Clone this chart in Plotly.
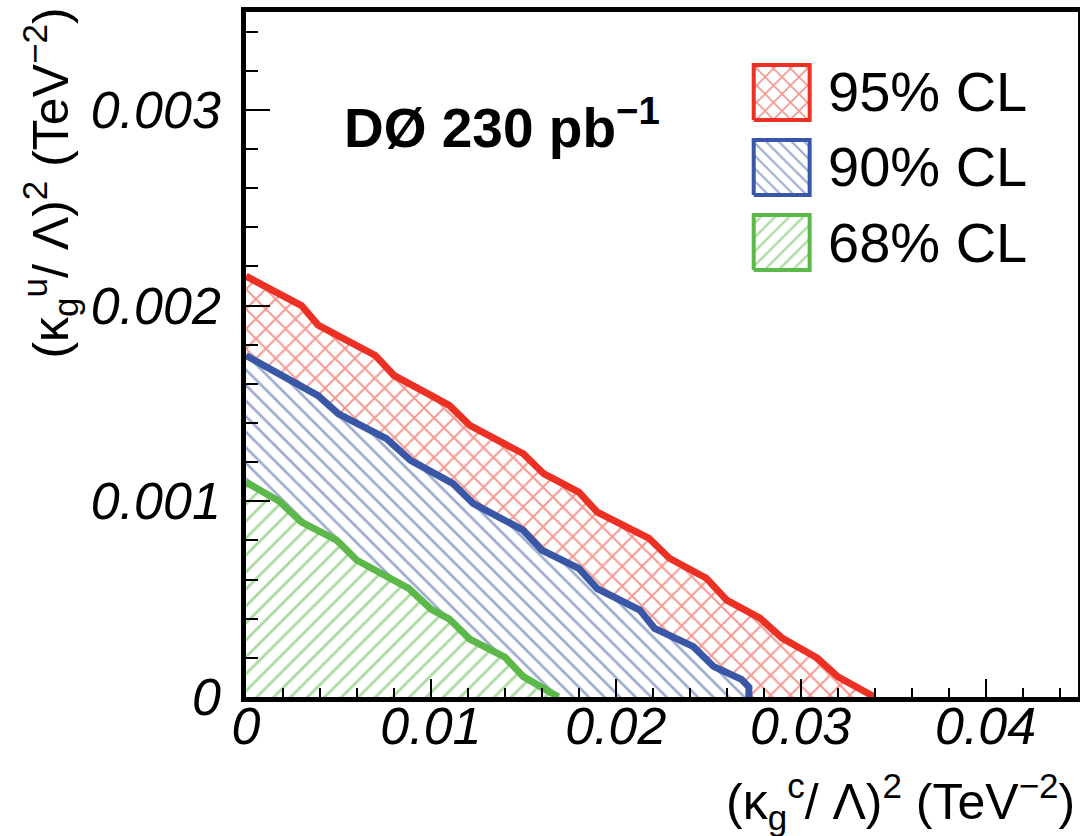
import plotly.graph_objects as go

# ---- data ----
cl_labels = ["95% CL", "90% CL", "68% CL"]

red_x = [0.0, 0.0030, 0.0039, 0.0070, 0.0080, 0.0110, 0.0121, 0.0150, 0.0161, 0.0180,
         0.0190, 0.0218, 0.0229, 0.0249, 0.0260, 0.0278, 0.0290, 0.0309, 0.0320, 0.0340]
red_y = [0.00215, 0.00200, 0.00190, 0.001745, 0.001643, 0.00149, 0.001388, 0.001243, 0.001141, 0.001047,
         0.000945, 0.000811, 0.000709, 0.000607, 0.000495, 0.000403, 0.000301, 0.000199, 0.000104, 0.0]

blue_x = [0.0, 0.0039, 0.0050, 0.0076, 0.0089, 0.0112, 0.0123, 0.0150, 0.0160, 0.0180,
          0.0190, 0.0213, 0.0221, 0.0242, 0.0253, 0.0268, 0.0272, 0.0272]
blue_y = [0.001745, 0.00154, 0.001447, 0.00132, 0.001209, 0.00109, 0.000988, 0.000852, 0.00075, 0.000657,
          0.000554, 0.000444, 0.00035, 0.000257, 0.000155, 0.00009, 0.00005, 0.0]

green_x = [0.0, 0.0018, 0.0030, 0.0049, 0.0060, 0.0088, 0.0100, 0.0110, 0.0121, 0.0140, 0.0150, 0.0169]
green_y = [0.001098, 0.001, 0.000894, 0.000801, 0.000699, 0.000555, 0.000449, 0.000398, 0.000296,
           0.000204, 0.000104, 0.0]

x_tickvals = [0, 0.01, 0.02, 0.03, 0.04]
x_ticktext = ["0", "0.01", "0.02", "0.03", "0.04"]
y_tickvals = [0, 0.001, 0.002, 0.003]
y_ticktext = ["0", "0.001", "0.002", "0.003"]

# ---- styles ----
RED = "rgb(236,49,36)"
BLUE = "rgb(57,87,166)"
GREEN = "rgb(92,184,72)"
FONT = "Liberation Sans, Arial, Helvetica, sans-serif"

series = [
    (cl_labels[0], red_x, red_y, RED, "x", 14, 0.26),
    (cl_labels[1], blue_x, blue_y, BLUE, "\\", 11, 0.24),
    (cl_labels[2], green_x, green_y, GREEN, "/", 12, 0.24),
]

fig = go.Figure()

for name, xs, ys, col, shape, size, sol in series:
    fig.add_trace(go.Scatter(
        x=xs, y=ys, mode="lines", name=name, fill="tozeroy",
        line=dict(color=col, width=7),
        fillpattern=dict(shape=shape, fgcolor=col, bgcolor="white", size=size, solidity=sol),
        showlegend=False, hoverinfo="skip",
    ))

# ---- custom legend (hatched boxes in a small inset axis) ----
for i, (name, xs, ys, col, shape, size, sol) in enumerate(series):
    top = 205 - 75 * i
    bot = top - 55
    fig.add_trace(go.Scatter(
        x=[0, 1, 1, 0, 0], y=[bot, bot, top, top, bot], mode="lines", fill="toself",
        line=dict(color=col, width=4),
        fillpattern=dict(shape=shape, fgcolor=col, bgcolor="white", size=size - 2, solidity=sol),
        xaxis="x2", yaxis="y2", showlegend=False, hoverinfo="skip",
    ))
    fig.add_annotation(
        xref="paper", yref="paper",
        x=(826 - 246) / 832.5, y=(697 - (92 + 75 * i)) / 685,
        xanchor="left", yanchor="middle", showarrow=False,
        text=name, font=dict(family=FONT, size=56, color="black"),
    )

fig.add_annotation(
    xref="paper", yref="paper", x=(342 - 246) / 832.5, y=(697 - 124) / 685,
    xanchor="left", yanchor="middle", showarrow=False,
    text="<b>DØ 230 pb<sup>−1</sup></b>",
    font=dict(family=FONT, size=55, color="black"),
)

# axis titles
fig.add_annotation(
    xref="paper", yref="paper", x=(1077 - 246) / 832.5, y=(697 - 801) / 685,
    xanchor="right", yanchor="middle", showarrow=False,
    text="(κ<sub>g</sub><sup>c</sup>/ Λ)<sup>2</sup> (TeV<sup>−2</sup>)",
    font=dict(family=FONT, size=50, color="black"),
)
fig.add_annotation(
    xref="paper", yref="paper", x=(50 - 246) / 832.5, y=(697 - 6) / 685,
    xanchor="center", yanchor="top", showarrow=False, textangle=-90,
    text="(κ<sub>g</sub><sup>u</sup>/ Λ)<sup>2</sup> (TeV<sup>−2</sup>)",
    font=dict(family=FONT, size=50, color="black"),
)

tickfont = dict(family=FONT, size=52, color="black", style="italic")

fig.update_layout(
    width=1080, height=836,
    margin=dict(l=246, r=2, t=12, b=139, pad=0),
    paper_bgcolor="white", plot_bgcolor="white",
    showlegend=False,
    xaxis=dict(
        range=[0, 0.045], tickmode="array", tickvals=x_tickvals, ticktext=x_ticktext,
        ticks="inside", ticklen=18, tickwidth=2, tickcolor="black",
        minor=dict(tickmode="linear", tick0=0, dtick=0.002, ticks="inside", ticklen=9,
                   tickwidth=2, tickcolor="black", showgrid=False),
        showline=True, linewidth=4.5, linecolor="black", mirror=True,
        showgrid=False, zeroline=False, tickfont=tickfont, ticklabelstandoff=-20,
        automargin=False, domain=[0, 1],
    ),
    yaxis=dict(
        range=[0, 0.0035], tickmode="array", tickvals=y_tickvals, ticktext=y_ticktext,
        ticks="inside", ticklen=24, tickwidth=2, tickcolor="black",
        minor=dict(tickmode="linear", tick0=0, dtick=0.0002, ticks="inside", ticklen=12,
                   tickwidth=2, tickcolor="black", showgrid=False),
        showline=True, linewidth=4.5, linecolor="black", mirror=True,
        showgrid=False, zeroline=False, tickfont=tickfont, ticklabelstandoff=10,
        automargin=False, domain=[0, 1],
    ),
    xaxis2=dict(domain=[(748.4 - 246) / 832.5, (815.6 - 246) / 832.5], range=[-0.1, 1.1],
                anchor="y2", visible=False, fixedrange=True),
    yaxis2=dict(domain=[(697 - 275) / 685, (697 - 60) / 685], range=[-5, 210],
                anchor="x2", visible=False, fixedrange=True),
)

fig.write_html("out.html", config={"displayModeBar": False},
               post_script="document.body.style.margin='0';")
